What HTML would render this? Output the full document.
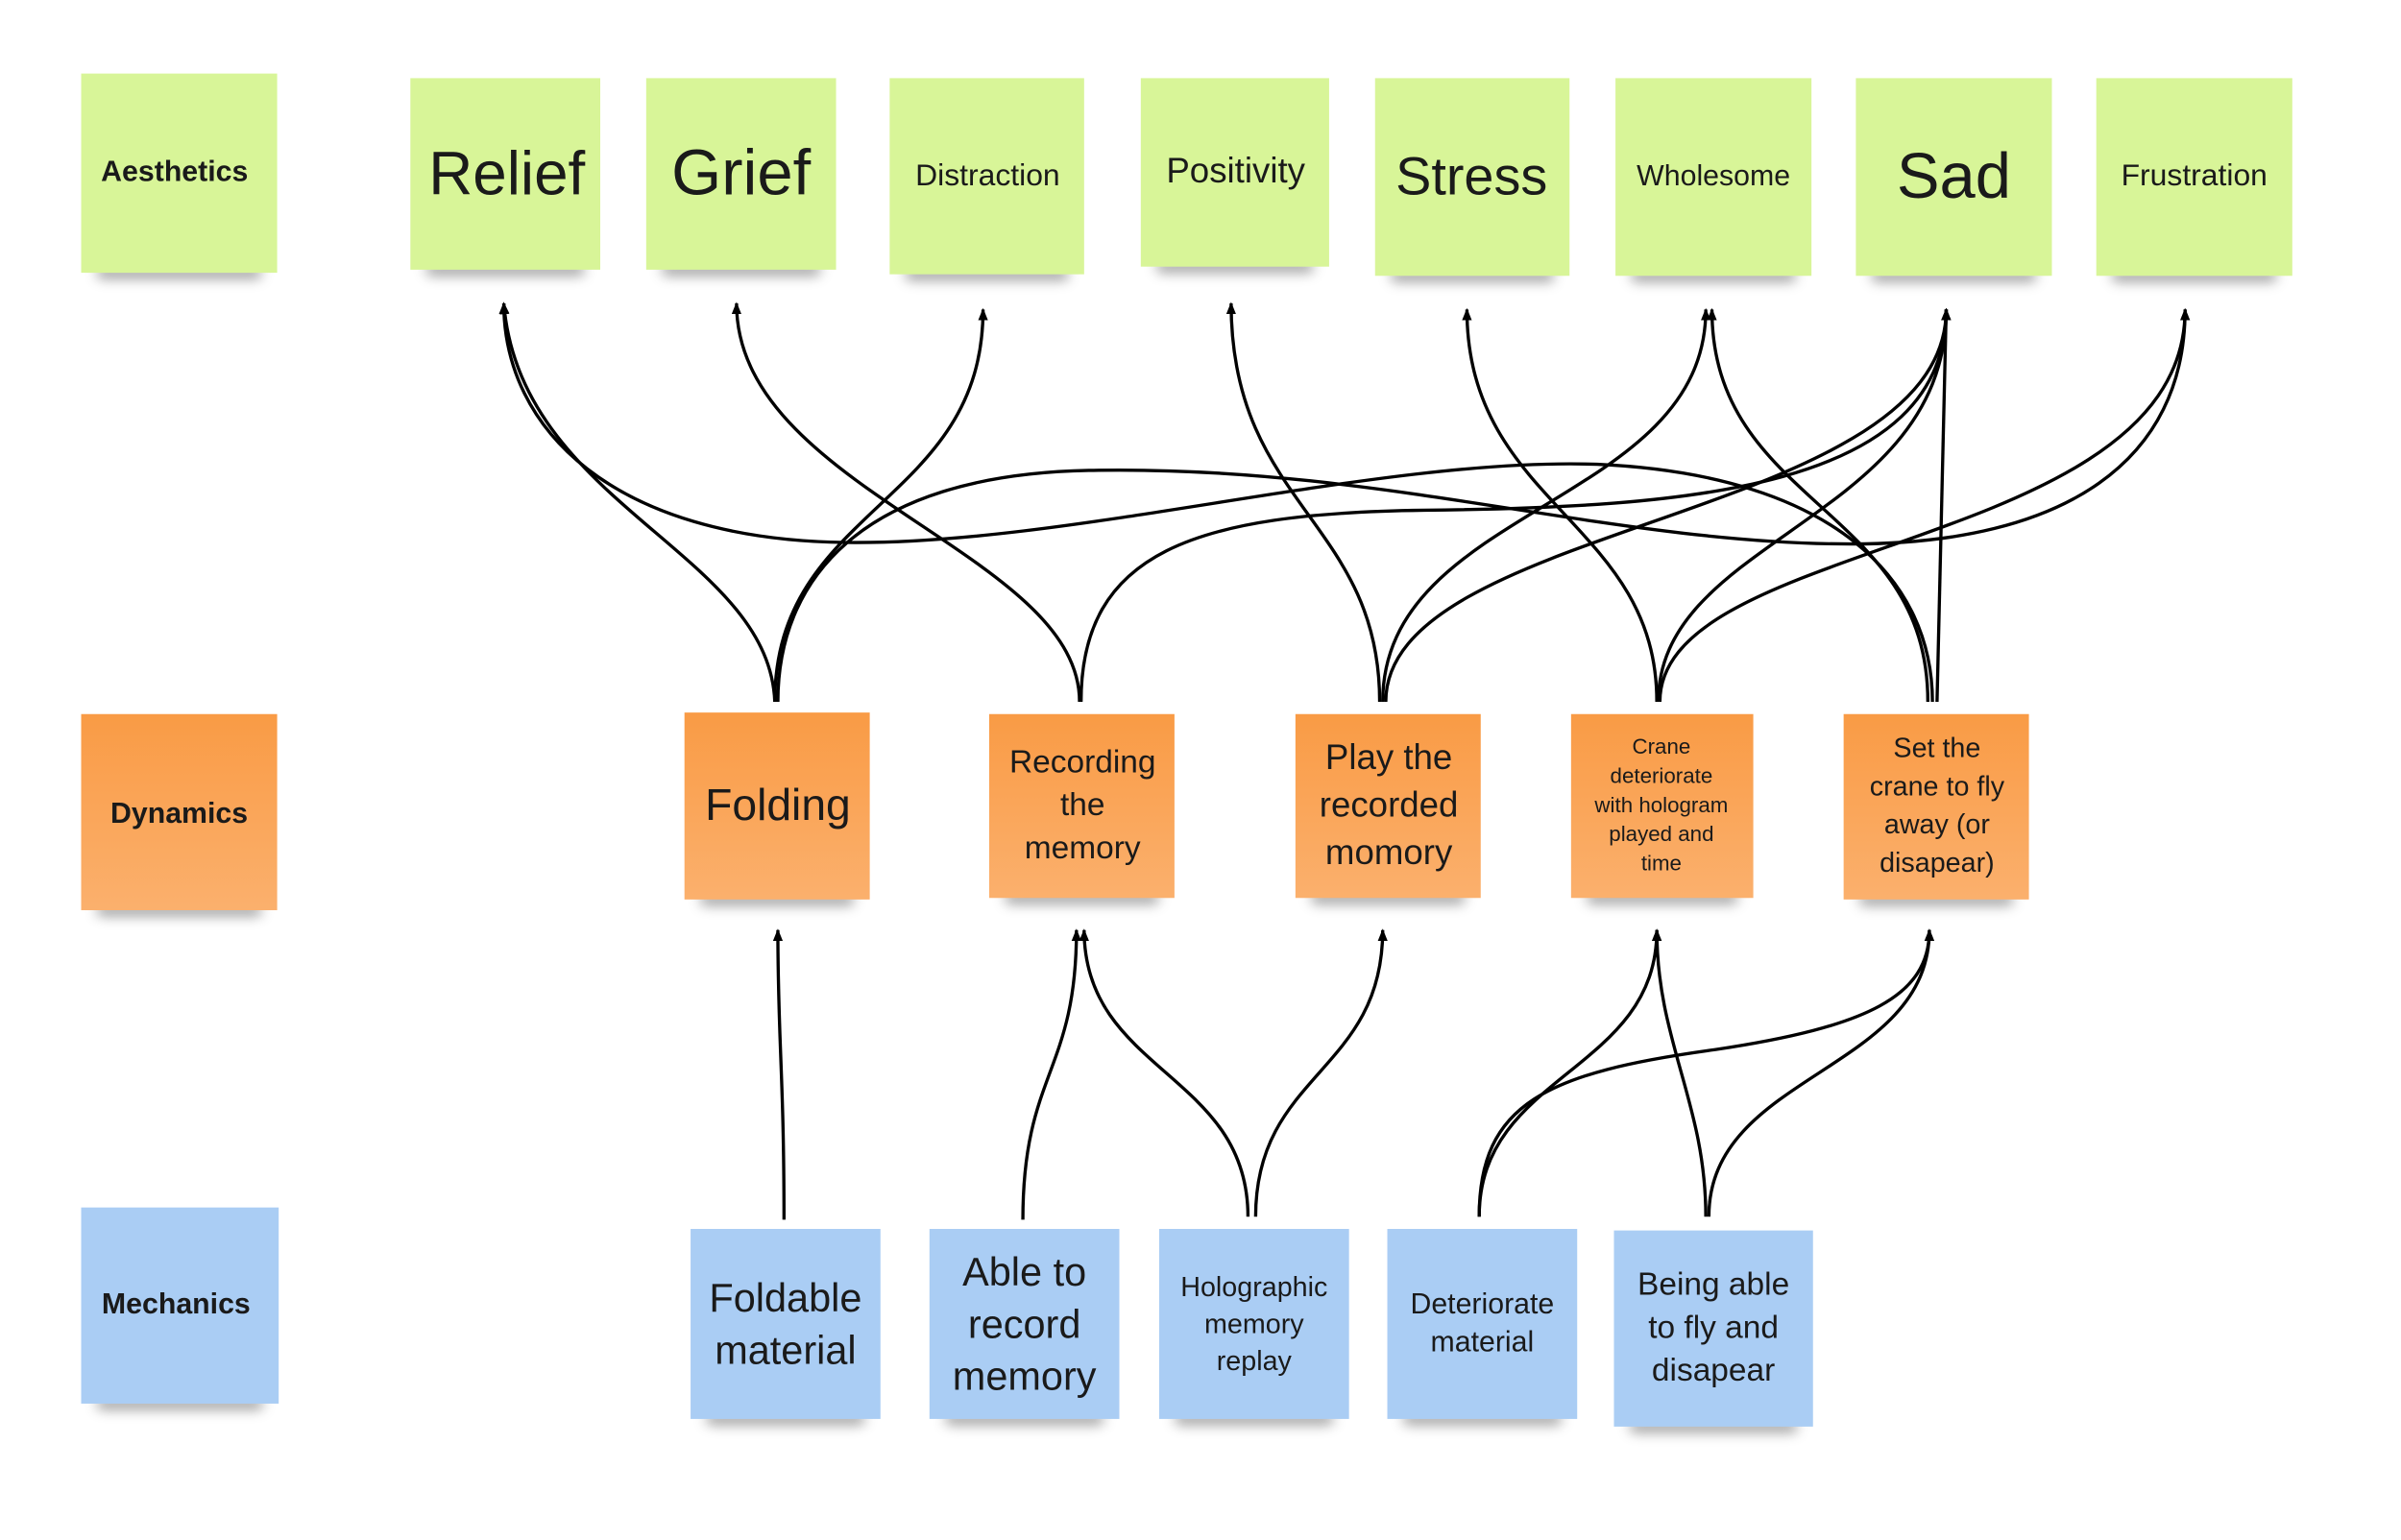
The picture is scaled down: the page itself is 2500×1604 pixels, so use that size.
<!DOCTYPE html>
<html><head><meta charset="utf-8"><style>
html,body{margin:0;padding:0;background:#fff;}
svg{display:block;}
text{font-family:"Liberation Sans",sans-serif;fill:#1a1a1a;text-anchor:middle;}
</style></head><body>
<svg width="2500" height="1604" viewBox="0 0 1568 1005" preserveAspectRatio="none" xmlns="http://www.w3.org/2000/svg">
<defs>
<filter id="sh" x="-20%" y="-100%" width="140%" height="300%"><feGaussianBlur stdDeviation="4"/></filter>
<marker id="ar" markerWidth="8" markerHeight="8" refX="7" refY="4" orient="auto" markerUnits="userSpaceOnUse">
<path d="M0,0.8 L8,4 L0,7.2 Z" fill="#000"/></marker>
<linearGradient id="og" x1="0" y1="0" x2="0" y2="1"><stop offset="0" stop-color="#f99b45"/><stop offset="1" stop-color="#fbb06d"/></linearGradient>
</defs>
<g id="shadows" fill="#555" opacity="0.55" filter="url(#sh)">
<rect x="63" y="174" width="108" height="8" rx="4"/>
<rect x="278" y="172" width="104" height="8" rx="4"/>
<rect x="432" y="172" width="104" height="8" rx="4"/>
<rect x="591" y="175" width="107" height="8" rx="4"/>
<rect x="755" y="170" width="103" height="8" rx="4"/>
<rect x="908" y="176" width="107" height="8" rx="4"/>
<rect x="1065" y="176" width="108" height="8" rx="4"/>
<rect x="1222" y="176" width="108" height="8" rx="4"/>
<rect x="1379" y="176" width="108" height="8" rx="4"/>
<rect x="63" y="590" width="108" height="8" rx="4"/>
<rect x="457" y="583" width="101" height="8" rx="4"/>
<rect x="656" y="582" width="101" height="8" rx="4"/>
<rect x="856" y="582" width="101" height="8" rx="4"/>
<rect x="1036" y="582" width="99" height="8" rx="4"/>
<rect x="1214" y="583" width="101" height="8" rx="4"/>
<rect x="63" y="912" width="109" height="8" rx="4"/>
<rect x="461" y="922" width="104" height="8" rx="4"/>
<rect x="617" y="922" width="104" height="8" rx="4"/>
<rect x="767" y="922" width="104" height="8" rx="4"/>
<rect x="916" y="922" width="104" height="8" rx="4"/>
<rect x="1064" y="927" width="110" height="8" rx="4"/>
</g>
<g fill="#d8f598">
<rect x="53" y="48" width="128" height="130"/>
<rect x="268" y="51" width="124" height="125"/>
<rect x="422" y="51" width="124" height="125"/>
<rect x="581" y="51" width="127" height="128"/>
<rect x="745" y="51" width="123" height="123"/>
<rect x="898" y="51" width="127" height="129"/>
<rect x="1055" y="51" width="128" height="129"/>
<rect x="1212" y="51" width="128" height="129"/>
<rect x="1369" y="51" width="128" height="129"/>
</g>
<g fill="url(#og)">
<rect x="53" y="466" width="128" height="128"/>
<rect x="447" y="465" width="121" height="122"/>
<rect x="646" y="466" width="121" height="120"/>
<rect x="846" y="466" width="121" height="120"/>
<rect x="1026" y="466" width="119" height="120"/>
<rect x="1204" y="466" width="121" height="121"/>
</g>
<g fill="#aacdf4">
<rect x="53" y="788" width="129" height="128"/>
<rect x="451" y="802" width="124" height="124"/>
<rect x="607" y="802" width="124" height="124"/>
<rect x="757" y="802" width="124" height="124"/>
<rect x="906" y="802" width="124" height="124"/>
<rect x="1054" y="803" width="130" height="128"/>
</g>
<g fill="none" stroke="#000" stroke-width="2.1" marker-end="url(#ar)">
<path d="M506,458 C502,360 340,330 329,198"/>
<path d="M1262,458 C1262,380 1200,310 1043,303 C900,298 700,356 552,354 C400,352 329,280 329,198"/>
<path d="M506,458 C506,330 642,330 642,202"/>
<path d="M508,458 C508,380 560,310 711,307 C900,303 1050,355 1209,355 C1350,355 1427,300 1427,202"/>
<path d="M705,458 C705,360 481,320 481,198"/>
<path d="M706,458 C706,360 780,335 930,333 C1100,331 1271,320 1271,202"/>
<path d="M901,458 C901,340 804,330 804,198"/>
<path d="M903,458 C903,330 1114,330 1114,202"/>
<path d="M905,458 C905,340 1271,340 1271,202"/>
<path d="M1082,458 C1082,340 958,330 958,202"/>
<path d="M1083,458 C1083,350 1271,340 1271,202"/>
<path d="M1084,458 C1084,350 1427,360 1427,202"/>
<path d="M1259,458 C1259,330 1118,330 1118,202"/>
<path d="M1265,458 L1271,202"/>
<path d="M512,796 C512,700 508,680 508,607"/>
<path d="M668,796 C668,700 703,700 703,607"/>
<path d="M815,794 C815,700 708,700 708,607"/>
<path d="M820,794 C820,700 903,700 903,607"/>
<path d="M966,794 C966,700 1082,700 1082,607"/>
<path d="M966,794 C966,720 1010,700 1120,685 C1220,670 1260,650 1260,607"/>
<path d="M1114,794 C1114,720 1082,680 1082,607"/>
<path d="M1116,794 C1116,700 1260,700 1260,607"/>
</g>
<text x="114" y="118" font-size="19" font-weight="bold">Aesthetics</text>
<text x="331" y="127" font-size="40">Relief</text>
<text x="484" y="127" font-size="42">Grief</text>
<text x="645" y="121" font-size="20">Distraction</text>
<text x="807" y="119" font-size="23">Positivity</text>
<text x="961" y="127" font-size="35">Stress</text>
<text x="1119" y="121" font-size="19">Wholesome</text>
<text x="1276" y="129" font-size="42">Sad</text>
<text x="1433" y="121" font-size="20">Frustration</text>
<text x="117" y="537" font-size="19" font-weight="bold">Dynamics</text>
<text x="508" y="535" font-size="29">Folding</text>
<g font-size="21"><text x="707" y="504">Recording</text><text x="707" y="532">the</text><text x="707" y="560">memory</text></g>
<g font-size="23"><text x="907" y="502">Play the</text><text x="907" y="533">recorded</text><text x="907" y="564">momory</text></g>
<g font-size="14"><text x="1085" y="492">Crane</text><text x="1085" y="511">deteriorate</text><text x="1085" y="530">with hologram</text><text x="1085" y="549">played and</text><text x="1085" y="568">time</text></g>
<g font-size="18"><text x="1265" y="494">Set the</text><text x="1265" y="519">crane to fly</text><text x="1265" y="544">away (or</text><text x="1265" y="569">disapear)</text></g>
<text x="115" y="857" font-size="19" font-weight="bold">Mechanics</text>
<g font-size="26"><text x="513" y="856">Foldable</text><text x="513" y="890">material</text></g>
<g font-size="26"><text x="669" y="839">Able to</text><text x="669" y="873">record</text><text x="669" y="907">memory</text></g>
<g font-size="18"><text x="819" y="846">Holographic</text><text x="819" y="870">memory</text><text x="819" y="894">replay</text></g>
<g font-size="19"><text x="968" y="857">Deteriorate</text><text x="968" y="882">material</text></g>
<g font-size="21"><text x="1119" y="845">Being able</text><text x="1119" y="873">to fly and</text><text x="1119" y="901">disapear</text></g>
</svg>
</body></html>
